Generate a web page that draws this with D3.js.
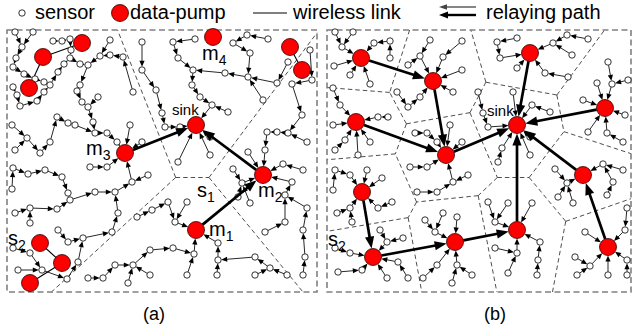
<!DOCTYPE html>
<html><head><meta charset="utf-8">
<script src="https://cdn.jsdelivr.net/npm/d3@7"></script>
<style>
body{margin:0;background:#fff}
svg{display:block}
text{font-family:"Liberation Sans",Arial,Helvetica,sans-serif;fill:#000}
</style></head>
<body><svg id="chart" width="636" height="327"></svg>
<script>
// ---------------- DATA (field coordinates, metres from panel's top-left corner) ----------------
const fieldA = [310, 262];
const fieldB = [304, 262];

const pumpsA = [
 {id:"sink",x:189,y:95},{id:"m1",x:189,y:200},{id:"m2",x:256,y:145},{id:"m3",x:118,y:123},
 {id:"m4",x:206,y:7},{id:"p1",x:22,y:58},{id:"p2",x:36,y:27},{id:"p3",x:75,y:13},
 {id:"p4",x:283,y:17},{id:"p5",x:295,y:40},{id:"p6",x:33,y:213},{id:"p7",x:55,y:233},{id:"p8",x:23,y:253}
];
const regionPumpsA = ["sink","m1","m2","m3"];
const pumpLinksA = [["p1","p2"],["p2","p3"],["p4","p5"],["p6","p7"],["p7","p8"]];
const relayA = [["m3","sink"],["m2","sink"],["m1","m2"]];
const chainsA = [
 [[8,2],[15,17]],
 [[26,2],[15,17]],
 [[15,17],[9,28],[6,37],[17,44],[28,49],[37,52],[43,55]],
 [[6,57],[10,65],[13,76],[30,71],[37,62],[43,55]],
 [[43,55],[51,42],[57,34],[63,28]],
 [[46,11],[55,11],[63,9],[64,20],[63,28]],
 [[63,28],[73,34],[81,35]],
 [[126,62],[116,27],[103,25],[93,26],[81,35]],
 [[103,10],[93,26]],
 [[81,35],[73,55],[70,61],[75,72],[81,77],[86,92],[88,103],[100,103],[110,112],"m3"],
 [[91,67],[81,77]],
 [[5,95],[20,108]],
 [[8,120],[20,108]],
 [[20,108],[33,123],[43,112],[50,87],[61,93],[68,95],[88,103]],
 [[123,95],"m3"],
 [[135,112],"m3"],
 [[135,12],[135,40],[149,60],[155,83],[158,97],[173,97],"sink"],
 [[188,9],[166,12],[171,28],[186,40]],
 [[241,47],[218,43],[186,40]],
 [[186,40],[185,55],[193,67],[205,75],"sink"],
 [[221,82],[205,75]],
 [[203,107],"sink"],
 [[203,125],"sink"],
 [[171,132],"sink"],
 [[261,9],[240,5],[226,13],[243,23],[241,47]],
 [[256,70],[241,47]],
 [[281,32],[270,53],[241,47]],
 [[303,20],[305,50],[285,54],[295,85],[281,103],[270,102],[260,102],[258,120],"m2"],
 [[300,112],[281,103]],
 [[226,139],[235,153],"m2"],
 [[231,167],[235,153]],
 [[243,173],[235,153]],
 [[296,140],[276,134],"m2"],
 [[285,152],"m2"],
 [[278,165],[285,152]],
 [[300,178],[278,165]],
 [[258,202],[278,192],[278,165]],
 [[296,245],[298,227],[296,200],[300,178]],
 [[143,220],[166,218],[187,224],"m1"],
 [[180,245],[187,224]],
 [[161,172],[168,192],"m1"],
 [[180,172],[168,192]],
 [[130,187],[145,180],[161,172]],
 [[210,245],[211,230],[211,213],"m1"],
 [[248,227],[211,230]],
 [[280,245],[263,238],[248,227]],
 [[248,245],[263,238]],
 [[5,159],[6,138],[21,144],[38,140],[55,147],[61,163],[63,170]],
 [[8,183],[23,178],[50,179],[63,170]],
 [[23,193],[23,178]],
 [[63,170],[88,162],[108,162],[125,152],"m3"],
 [[141,145],[125,152]],
 [[83,137],[100,137],"m3"],
 [[51,200],[61,212],[76,208],[105,202],[111,183],[108,162]],
 [[6,218],[23,223],[35,240]],
 [[11,240],[35,240]],
 [[35,240],[60,249],[71,232],[76,208]],
 [[81,248],[96,248],[108,235],[126,235],[143,220]],
 [[143,245],[126,235]],
 [[121,253],[126,235]],
 [[241,122],"m2"]
];

const pumpsB = [
 {id:"b1",x:34,y:28},{id:"b2",x:106,y:51},{id:"b3",x:29,y:92},{id:"b4",x:119,y:125},
 {id:"sink",x:190,y:95},{id:"b5",x:203,y:23},{id:"b6",x:278,y:78},{id:"b7",x:35,y:162},
 {id:"b8",x:46,y:227},{id:"b9",x:128,y:212},{id:"b10",x:190,y:200},{id:"b11",x:256,y:145},{id:"b12",x:281,y:217}
];
const regionPumpsB = pumpsB.map(p => p.id);
const pumpLinksB = [];
const relayB = [["b1","b2"],["b2","b4"],["b3","b4"],["b4","sink"],["b5","sink"],["b6","sink"],
 ["b7","b8"],["b8","b9"],["b9","b10"],["b10","sink"],["b12","b11"],["b11","sink"]];
const chainsB = [
 [[8,2],[15,17],"b1"],
 [[26,2],[15,17]],
 [[7,36],"b1"],
 [[23,45],"b1"],
 [[43,54],"b1"],
 [[63,28],[63,11],[47,13],"b1"],
 [[103,10],[93,26],"b2"],
 [[81,35],[93,26]],
 [[135,11],[116,27],"b2"],
 [[135,40],"b2"],
 [[126,62],"b2"],
 [[70,62],[81,77],[93,67],"b2"],
 [[6,58],[13,75],"b3"],
 [[6,95],"b3"],
 [[8,120],[18,110],"b3"],
 [[31,125],"b3"],
 [[43,112],"b3"],
 [[61,87],[51,87],"b3"],
 [[88,103],[100,103],[110,112],"b4"],
 [[123,95],"b4"],
 [[135,112],"b4"],
 [[83,137],[100,137],"b4"],
 [[90,162],[110,162],[126,152],"b4"],
 [[141,145],[126,152]],
 [[190,8],[170,12],[173,28],"b5"],
 [[190,38],"b5"],
 [[261,9],[240,5],[226,13],"b5"],
 [[245,25],[226,13]],
 [[241,47],[218,43],"b5"],
 [[151,62],[156,83],[161,97],"sink"],
 [[186,62],"sink"],
 [[223,82],[205,75],"sink"],
 [[171,132],[175,118],"sink"],
 [[203,107],"sink"],
 [[203,125],"sink"],
 [[281,32],[285,54],"b6"],
 [[301,50],[285,54]],
 [[270,53],"b6"],
 [[256,70],"b6"],
 [[298,85],"b6"],
 [[261,102],"b6"],
 [[296,112],[280,103],"b6"],
 [[6,160],[8,140],[23,145],"b7"],
 [[40,140],"b7"],
 [[55,148],"b7"],
 [[10,183],[23,178],"b7"],
 [[25,192],[23,178]],
 [[65,172],[51,178],"b7"],
 [[8,218],[23,223],"b8"],
 [[11,242],[35,240],"b8"],
 [[53,200],[60,212],"b8"],
 [[76,208],[60,212]],
 [[60,248],"b8"],
 [[81,248],[71,232],"b8"],
 [[98,190],[108,202],"b9"],
 [[116,183],[108,202]],
 [[130,187],"b9"],
 [[96,248],[110,235],"b9"],
 [[125,253],[130,235],"b9"],
 [[145,245],[130,235]],
 [[161,172],[168,192],"b10"],
 [[181,173],[168,192]],
 [[205,173],"b10"],
 [[168,218],[190,223],"b10"],
 [[181,243],[190,223]],
 [[210,245],[211,230],[213,212],"b10"],
 [[228,139],[240,153],"b11"],
 [[231,167],[240,153]],
 [[246,173],[240,153]],
 [[296,140],[276,134],"b11"],
 [[286,152],[276,134]],
 [[280,165],[286,152]],
 [[300,178],[298,200],"b12"],
 [[258,202],"b12"],
 [[248,227],[263,236],"b12"],
 [[250,245],[263,236]],
 [[281,245],"b12"],
 [[300,245],[300,230],"b12"]
];

const legendItems = ["sensor","data-pump","wireless link","relaying path"];
const panelTags = ["(a)","(b)"];

// ---------------- DRAWING ----------------
const svg = d3.select("#chart");
const SENS_R = 3.2, PUMP_R = 8.5;

function arrow(sel, a, b, headLen, halfW, sw, color) {
  const dx = b.x - a.x, dy = b.y - a.y, L = Math.hypot(dx, dy);
  if (L < 1e-6) return;
  const ux = dx / L, uy = dy / L;
  const sx = a.x + ux * a.r, sy = a.y + uy * a.r;
  const tx = b.x - ux * b.r, ty = b.y - uy * b.r;
  const bx = tx - ux * headLen, by = ty - uy * headLen;
  sel.append("line").attr("x1", sx).attr("y1", sy).attr("x2", bx + ux * 0.8).attr("y2", by + uy * 0.8)
    .attr("stroke", color).attr("stroke-width", sw);
  sel.append("path").attr("d", `M${tx},${ty}L${bx - uy * halfW},${by + ux * halfW}L${bx + uy * halfW},${by - ux * halfW}Z`)
    .attr("fill", color);
}

function drawPanel(cfg) {
  const {xs, ys, pumps, chains, pumpLinks, relays, regionIds} = cfg;
  const g = svg.append("g");
  const pm = new Map(pumps.map(p => [p.id, p]));
  const pt = p => typeof p === "string"
    ? {x: xs(pm.get(p).x), y: ys(pm.get(p).y), r: PUMP_R}
    : {x: xs(p[0]), y: ys(p[1]), r: SENS_R};
  const [x0, x1] = xs.range(), [y0, y1] = ys.range();

  // region boundaries (Voronoi cells of relaying pumps)
  const sites = regionIds.map(id => [xs(pm.get(id).x), ys(pm.get(id).y)]);
  const vor = d3.Delaunay.from(sites).voronoi([x0, y0, x1, y1]);
  g.append("path").attr("d", vor.render()).attr("fill", "none")
    .attr("stroke", "#222").attr("stroke-width", 0.8).attr("stroke-dasharray", "4.5,3");

  // field border
  g.append("rect").attr("x", x0).attr("y", y0).attr("width", x1 - x0).attr("height", y1 - y0)
    .attr("fill", "none").attr("stroke", "#808080").attr("stroke-width", 1.6).attr("stroke-dasharray", "6,3.5");

  // wireless links between pumps (no relay)
  pumpLinks.forEach(([a, b]) => {
    const A = pt(a), B = pt(b);
    g.append("line").attr("x1", A.x).attr("y1", A.y).attr("x2", B.x).attr("y2", B.y)
      .attr("stroke", "#000").attr("stroke-width", 1.1);
  });

  // sensor links (arrow toward next hop)
  const lg = g.append("g");
  chains.forEach(ch => {
    for (let i = 0; i < ch.length - 1; i++) arrow(lg, pt(ch[i]), pt(ch[i + 1]), 6, 2.6, 0.85, "#000");
  });

  // sensors
  const seen = new Map();
  chains.forEach(ch => ch.forEach(p => { if (typeof p !== "string") seen.set(p[0] + "," + p[1], p); }));
  g.append("g").selectAll("circle").data([...seen.values()]).join("circle")
    .attr("cx", d => xs(d[0])).attr("cy", d => ys(d[1])).attr("r", SENS_R)
    .attr("fill", "#fff").attr("stroke", "#000").attr("stroke-width", 0.8);

  // relaying paths
  const rg = g.append("g");
  relays.forEach(([a, b]) => arrow(rg, pt(a), pt(b), 12, 4.6, 2.7, "#000"));

  // pumps
  g.append("g").selectAll("circle").data(pumps).join("circle")
    .attr("cx", d => xs(d.x)).attr("cy", d => ys(d.y)).attr("r", PUMP_R)
    .attr("fill", "#ff0000").attr("stroke", "#300").attr("stroke-width", 0.8);
  return {g, xs, ys, pm};
}

const xA = d3.scaleLinear().domain([0, fieldA[0]]).range([7, 317]);
const yA = d3.scaleLinear().domain([0, fieldA[1]]).range([30, 292]);
const xB = d3.scaleLinear().domain([0, fieldB[0]]).range([327, 631]);
const yB = d3.scaleLinear().domain([0, fieldB[1]]).range([30, 292]);

const PA = drawPanel({xs: xA, ys: yA, pumps: pumpsA, chains: chainsA, pumpLinks: pumpLinksA, relays: relayA, regionIds: regionPumpsA});
const PB = drawPanel({xs: xB, ys: yB, pumps: pumpsB, chains: chainsB, pumpLinks: pumpLinksB, relays: relayB, regionIds: regionPumpsB});

// labels
function subLabel(g, x, y, main, sub, size) {
  const t = g.append("text").attr("x", x).attr("y", y).attr("font-size", size);
  t.append("tspan").text(main);
  t.append("tspan").attr("font-size", size * 0.7).attr("dy", 5).text(sub);
}
function pumpXY(P, id) { const p = P.pm.get(id); return [P.xs(p.x), P.ys(p.y)]; }
{
  let [x, y] = pumpXY(PA, "sink");
  PA.g.append("text").attr("x", x - 24).attr("y", y - 10).attr("font-size", 15).text("sink");
  [x, y] = pumpXY(PA, "m3"); subLabel(PA.g, x - 39, y + 2, "m", "3", 20);
  [x, y] = pumpXY(PA, "m4"); subLabel(PA.g, x - 11, y + 23, "m", "4", 20);
  [x, y] = pumpXY(PA, "m2"); subLabel(PA.g, x - 5, y + 22, "m", "2", 20);
  [x, y] = pumpXY(PA, "m1"); subLabel(PA.g, x + 13, y + 6, "m", "1", 20);
  subLabel(PA.g, x + 1, y - 33, "s", "1", 20);
  subLabel(PA.g, PA.xs(1), PA.ys(215), "s", "2", 20);
  [x, y] = pumpXY(PB, "sink");
  PB.g.append("text").attr("x", x - 30).attr("y", y - 9).attr("font-size", 15).text("sink");
  subLabel(PB.g, PB.xs(1), PB.ys(216), "s", "2", 20);
}

// panel tags
svg.append("text").attr("x", 154).attr("y", 320).attr("font-size", 18).attr("text-anchor", "middle").text(panelTags[0]);
svg.append("text").attr("x", 495).attr("y", 320).attr("font-size", 18).attr("text-anchor", "middle").text(panelTags[1]);

// legend
const lgd = svg.append("g");
lgd.append("circle").attr("cx", 22).attr("cy", 13).attr("r", SENS_R).attr("fill", "#fff").attr("stroke", "#000").attr("stroke-width", 0.8);
lgd.append("text").attr("x", 35).attr("y", 19).attr("font-size", 20).text(legendItems[0]);
lgd.append("circle").attr("cx", 120).attr("cy", 13).attr("r", PUMP_R).attr("fill", "#ff0000").attr("stroke", "#300").attr("stroke-width", 0.8);
lgd.append("text").attr("x", 130).attr("y", 19).attr("font-size", 20).text(legendItems[1]);
lgd.append("line").attr("x1", 253).attr("y1", 13).attr("x2", 287).attr("y2", 13).attr("stroke", "#000").attr("stroke-width", 1);
lgd.append("text").attr("x", 293).attr("y", 19).attr("font-size", 20).text(legendItems[2]);
arrow(lgd, {x: 476, y: 7, r: 0}, {x: 439, y: 7, r: 0}, 8, 2.8, 1.3, "#444");
arrow(lgd, {x: 476, y: 15, r: 0}, {x: 439, y: 15, r: 0}, 9, 3.6, 2.4, "#000");
lgd.append("text").attr("x", 486).attr("y", 19).attr("font-size", 20).text(legendItems[3]);
</script></body></html>
